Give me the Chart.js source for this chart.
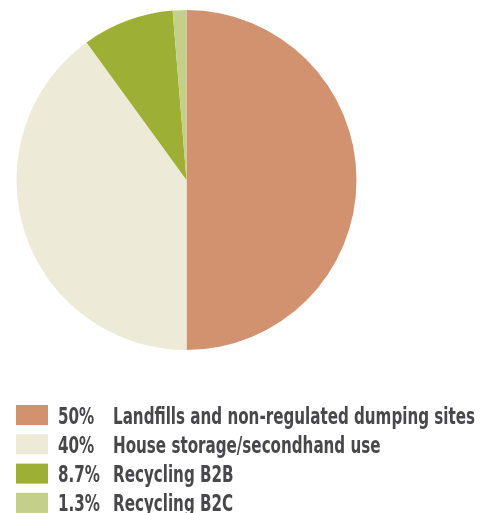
<!DOCTYPE html>
<html>
<head>
<meta charset="utf-8">
<script src="https://cdn.jsdelivr.net/npm/chart.js@4"></script>
<style>
  html, body { margin: 0; padding: 0; background: #ffffff; }
  canvas { display: block; }
</style>
</head>
<body>
<canvas id="chart" width="482" height="513"></canvas>
<script>
// Destination of collected products
const categories = [
  'Landfills and non-regulated dumping sites',
  'House storage/secondhand use',
  'Recycling B2B',
  'Recycling B2C'
];
const shares = [50, 40, 8.7, 1.3];
const colors = ['#D3926F', '#EDEAD8', '#9EAF36', '#C5CF8C'];

// Legend drawn under the pie: colour box, share, then category name
const tableLegend = {
  id: 'tableLegend',
  afterDraw(chart) {
    const ctx = chart.ctx;
    const ds = chart.data.datasets[0];
    const font = 'bold 22.5px "Liberation Sans Narrow", "DejaVu Sans Condensed", Roboto, "Liberation Sans", sans-serif';
    ctx.save();
    ctx.font = font;
    // condense the type so the longest row spans the legend width
    let longest = 0;
    chart.data.labels.forEach(l => { longest = Math.max(longest, ctx.measureText(l).width); });
    const sx = Math.min(1, 362 / longest);
    const top0 = 405, pitch = 29.3;
    chart.data.labels.forEach((label, i) => {
      const y = top0 + i * pitch;
      ctx.fillStyle = ds.backgroundColor[i];
      ctx.fillRect(16, y, 32, 20);
      ctx.fillStyle = '#48484a';
      ctx.textBaseline = 'alphabetic';
      ctx.textAlign = 'left';
      const base = y + 18.5;
      ctx.save();
      ctx.translate(58, base);
      ctx.scale(sx, 1);
      ctx.fillText(ds.data[i] + '%', 0, 0);
      ctx.restore();
      ctx.save();
      ctx.translate(113, base);
      ctx.scale(sx, 1);
      ctx.fillText(label, 0, 0);
      ctx.restore();
    });
    ctx.restore();
  }
};

new Chart(document.getElementById('chart'), {
  type: 'pie',
  data: {
    labels: categories,
    datasets: [{
      data: shares,
      backgroundColor: colors,
      borderWidth: 0
    }]
  },
  options: {
    responsive: false,
    animation: false,
    layout: { padding: { left: 16, top: 10, right: 125, bottom: 163 } },
    plugins: {
      legend: { display: false },
      tooltip: { enabled: false }
    }
  },
  plugins: [tableLegend]
});
</script>
</body>
</html>
